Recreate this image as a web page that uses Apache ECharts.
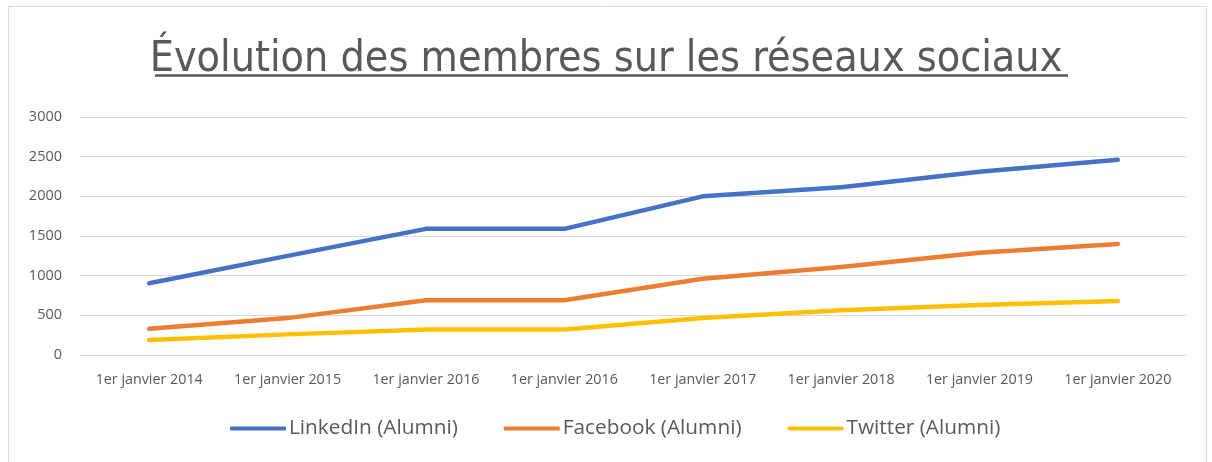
<!DOCTYPE html>
<html>
<head>
<meta charset="utf-8">
<script src="https://cdn.jsdelivr.net/npm/echarts@6/dist/echarts.min.js"></script>
<style>html,body{margin:0;padding:0;background:#fff}#c{width:1212px;height:462px}</style>
</head>
<body>
<div id="c"></div>
<script>
const categories = ['1er janvier 2014','1er janvier 2015','1er janvier 2016','1er janvier 2016','1er janvier 2017','1er janvier 2018','1er janvier 2019','1er janvier 2020'];
const linkedin = [905, 1250, 1590, 1590, 2000, 2115, 2310, 2460];
const facebook = [330, 465, 690, 690, 960, 1110, 1290, 1400];
const twitter = [190, 260, 320, 320, 465, 565, 630, 680];
const seriesNames = ['LinkedIn (Alumni)','Facebook (Alumni)','Twitter (Alumni)'];
const titleText = 'Évolution des membres sur les réseaux sociaux';

const font = '"Open Sans", "Noto Sans", sans-serif';
const chart = echarts.init(document.getElementById('c'), null, {renderer:'canvas'});
const mk = (name, data, color) => ({
  name, type:'line', data, symbol:'none', smooth:false,
  lineStyle:{color, width:4.5, cap:'round', join:'round'},
  itemStyle:{color}
});
chart.setOption({
  animation:false,
  backgroundColor:'#fff',
  title:{
    text:titleText, left:'center', top:33,
    textStyle:{fontFamily:'"DejaVu Sans Condensed", sans-serif', fontWeight:'normal', fontSize:42.6, color:'#595959'}
  },
  graphic:[
    {type:'rect', shape:{x:8.5,y:6.5,width:1198,height:470}, style:{fill:'none', stroke:'#d9d9d9', lineWidth:1}, silent:true},
    {type:'line', shape:{x1:155,y1:75.5,x2:1068,y2:75.5}, style:{stroke:'#595959', lineWidth:2.5}, silent:true}
  ],
  legend:{
    bottom:18, left:225, itemGap:46, itemWidth:56, itemHeight:4,
    icon:'roundRect',
    textStyle:{fontFamily:font, fontSize:20.8, color:'#595959', padding:[0,0,0,-2]},
    data:seriesNames
  },
  grid:{left:80, right:25, top:117, bottom:107},
  xAxis:{
    type:'category', data:categories, boundaryGap:true,
    axisLine:{show:false}, axisTick:{show:false},
    axisLabel:{fontFamily:font, fontSize:14.3, color:'#595959', margin:18, interval:0}
  },
  yAxis:{
    type:'value', min:0, max:3000, interval:500,
    axisLine:{show:false}, axisTick:{show:false},
    splitLine:{lineStyle:{color:'#d9d9d9', width:1.2}},
    axisLabel:{fontFamily:font, fontSize:14.5, color:'#595959', margin:18, formatter:v => String(v)}
  },
  series:[
    mk(seriesNames[0], linkedin, '#4472C4'),
    mk(seriesNames[1], facebook, '#ED7D31'),
    mk(seriesNames[2], twitter, '#FFC000')
  ]
});
</script>
</body>
</html>
